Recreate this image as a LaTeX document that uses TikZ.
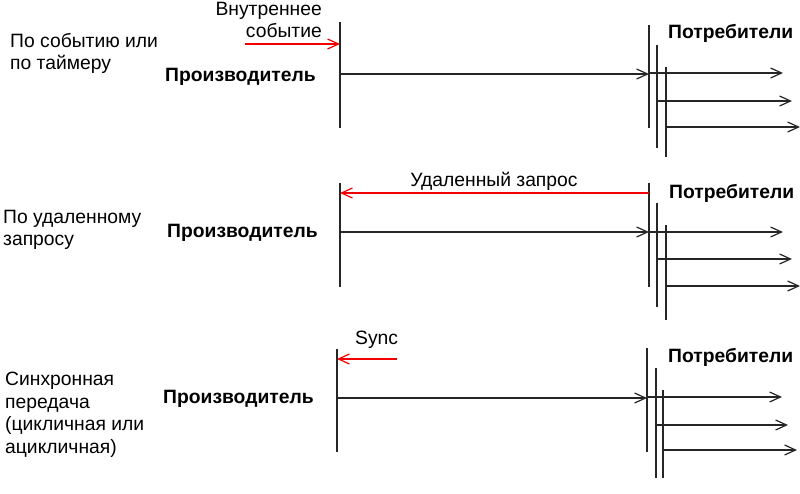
\documentclass[tikz,border=0pt]{standalone}
\usepackage{fontspec}
\setmainfont{Liberation Sans}
\usetikzlibrary{arrows.meta}

\tikzset{
	wire/.style={line width=1.2pt, color=black!85},
	msg/.style={wire, -{Straight Barb[length=11pt,width=10pt]}},
	req/.style={line width=1.2pt, color=red!95!black, -{Straight Barb[length=11pt,width=10pt]}},
	txt/.style={font=\fontsize{19.3}{22.5}\selectfont, inner sep=0pt},
	lbl/.style={txt, align=left, anchor=west},
	role/.style={txt, font=\fontsize{19.3}{22.5}\selectfont\bfseries, anchor=west},
}

\begin{document}
\begin{tikzpicture}[x=1pt, y=-1pt]
		%%%%% START %%%%%
		\useasboundingbox (0, 0) rectangle (800, 494);
		
		%%%%% by event / timer
		\node[lbl] (mode1) at (10, 53.5) {По событию или\\по таймеру};
		\node[role] (prod1) at (165, 77) {Производитель};
		\node[role] (cons1) at (668, 33) {Потребители};
		\node[txt, align=right, anchor=east] (ev1) at (322, 20) {Внутреннее\\событие};
		
		\coordinate (p1t) at (340, 22); \coordinate (p1b) at (340, 128);
		\coordinate (c1at) at (649, 25); \coordinate (c1ab) at (649, 128);
		\coordinate (c1bt) at (657, 45); \coordinate (c1bb) at (657, 148);
		\coordinate (c1ct) at (666, 67); \coordinate (c1cb) at (666, 157);
		\draw[wire] (p1t) -- (p1b);
		\draw[wire] (c1at) -- (c1ab);
		\draw[wire] (c1bt) -- (c1bb);
		\draw[wire] (c1ct) -- (c1cb);
		
		\coordinate (e1) at (245, 44);
		\draw[req] (e1) -- (e1 -| p1t);
		\draw[msg] (340, 74) -- (c1at |- 0, 74);
		\coordinate (o1a) at (783, 73); \coordinate (o1b) at (792, 101); \coordinate (o1c) at (800, 127);
		\draw[msg] (o1a -| c1at) -- (o1a);
		\draw[msg] (o1b -| c1bt) -- (o1b);
		\draw[msg] (o1c -| c1ct) -- (o1c);
		
		%%%%% by remote request
		\node[lbl] (mode2) at (3, 230) {По удаленному\\запросу};
		\node[role] (prod2) at (167, 233) {Производитель};
		\node[role] (cons2) at (669, 193) {Потребители};
		\node[txt, anchor=south] (rq2) at (494, 191) {Удаленный запрос};
		
		\coordinate (p2t) at (340, 183); \coordinate (p2b) at (340, 287);
		\coordinate (c2at) at (649, 183); \coordinate (c2ab) at (649, 287);
		\coordinate (c2bt) at (657, 203); \coordinate (c2bb) at (657, 307);
		\coordinate (c2ct) at (666, 225); \coordinate (c2cb) at (666, 320);
		\draw[wire] (p2t) -- (p2b);
		\draw[wire] (c2at) -- (c2ab);
		\draw[wire] (c2bt) -- (c2bb);
		\draw[wire] (c2ct) -- (c2cb);
		
		\draw[req] (c2at |- 0, 193) -- (p2t |- 0, 193);
		\draw[msg] (340, 232) -- (c2at |- 0, 232);
		\coordinate (o2a) at (783, 232); \coordinate (o2b) at (792, 259); \coordinate (o2c) at (800, 286);
		\draw[msg] (o2a -| c2at) -- (o2a);
		\draw[msg] (o2b -| c2bt) -- (o2b);
		\draw[msg] (o2c -| c2ct) -- (o2c);
		
		%%%%% synchronous transfer
		\node[lbl] (mode3) at (5, 415) {Синхронная\\передача\\(цикличная или\\ацикличная)};
		\node[role] (prod3) at (163, 399) {Производитель};
		\node[role] (cons3) at (668, 357) {Потребители};
		\node[txt, anchor=west] (sync3) at (355, 340) {Sync};
		
		\coordinate (p3t) at (337, 349); \coordinate (p3b) at (337, 452);
		\coordinate (c3at) at (647, 348); \coordinate (c3ab) at (647, 452);
		\coordinate (c3bt) at (656, 368); \coordinate (c3bb) at (656, 478);
		\coordinate (c3ct) at (663, 390); \coordinate (c3cb) at (663, 478);
		\draw[wire] (p3t) -- (p3b);
		\draw[wire] (c3at) -- (c3ab);
		\draw[wire] (c3bt) -- (c3bb);
		\draw[wire] (c3ct) -- (c3cb);
		
		\coordinate (s3) at (397, 359);
		\draw[req] (s3) -- (s3 -| p3t);
		\draw[msg] (337, 398) -- (c3at |- 0, 398);
		\coordinate (o3a) at (782, 397); \coordinate (o3b) at (788, 425); \coordinate (o3c) at (797, 450);
		\draw[msg] (o3a -| c3at) -- (o3a);
		\draw[msg] (o3b -| c3bt) -- (o3b);
		\draw[msg] (o3c -| c3ct) -- (o3c);
		%%%%% END %%%%%
	\end{tikzpicture}
\end{document}
